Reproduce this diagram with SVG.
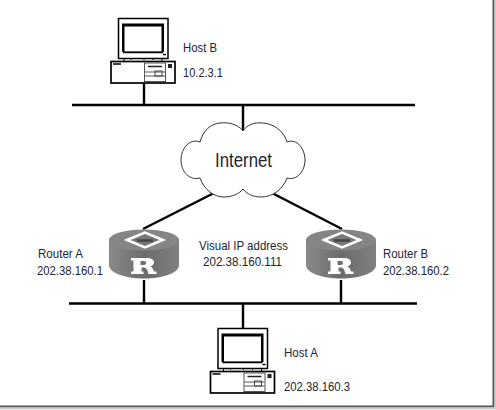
<svg xmlns="http://www.w3.org/2000/svg" width="496" height="410" viewBox="0 0 496 410">
<style>
text{font-family:"Liberation Sans",Arial,sans-serif;font-size:13.500px;fill:#1c2433}
.w{stroke:#000;stroke-width:2.400;fill:none}
.l{stroke:#000;fill:#fff}
.t{stroke:#000;fill:none;stroke-width:1}
</style>
<defs>
<linearGradient id="side" x1="0" x2="1" y1="0" y2="0">
<stop offset="0" stop-color="#8a8a8a"/><stop offset="0.500" stop-color="#6c6c6c"/><stop offset="1" stop-color="#808080"/>
</linearGradient>
<g id="pc">
<rect class="l" x="118.500" y="18.500" width="49.500" height="40" stroke-width="1.500"/>
<path d="M123.500 52V25H162.500V52" fill="none" stroke="#000" stroke-width="3"/>
<rect x="124" y="26" width="38" height="26" fill="#fff" stroke="#000" stroke-width="1"/>
<path d="M123 52.500h40" stroke="#000" stroke-width="1.500"/>
<path d="M163 54.500h3" stroke="#000" stroke-width="1.500"/>
<path d="M124 58v3.500M162 58v3.500M131 58v2M144 58v2M153 58v2" class="t"/>
<rect class="l" x="111" y="61.500" width="64" height="21.500" stroke-width="1.700"/>
<path d="M113 64h8" stroke="#000" stroke-width="1.500"/>
<rect x="144.500" y="63" width="21" height="18.500" fill="#fff" stroke="#555" stroke-width="1"/>
<path d="M148 66.500h14" stroke="#222" stroke-width="1.500"/>
<path d="M145 72h20M145 76h20" stroke="#555" stroke-width="1" fill="none"/>
<rect x="155" y="71" width="7" height="5" fill="none" stroke="#444"/>
<rect x="168" y="64" width="4" height="4" fill="#222"/>
</g>
<g id="router">
<path d="M109 239v26c0 8 16 13.500 35 13.500s35-5.500 35-13.500v-26z" fill="url(#side)"/>
<ellipse cx="144" cy="240" rx="35" ry="10.500" fill="#858585"/>
<path d="M127 240l18-7.500 18 7.500-18 7.500z" fill="#777" stroke="#fff" stroke-width="2.500"/>
<path d="M137 240.500h16" stroke="#444" stroke-width="2.500"/>
<path d="M131 258h15c6 0 8 2 8 4.500 0 2-2 3.500-4 4 2 .5 3 2 4 5h2.500v2.500h-8c-1-4-2-6.500-5-6.500h-2v4h2v2.500h-12.500v-2.500h2.500v-11h-2.500zM140.500 261v4h3.500c2.500 0 3-4 0-4z" fill="#fff" fill-rule="evenodd"/>
</g>
</defs>
<rect width="496" height="410" fill="#fff"/>
<path d="M493.500 0V406.500H0" fill="none" stroke="#555" stroke-width="2"/>
<path d="M495.500 0V408.500H0" fill="none" stroke="#ccc" stroke-width="2"/>
<g id="connectors">
<path class="w" d="M72 105H415M69 303.500H417M144 83V105M243 105V132M143 229L214 193M342 229L272 193M144 280V303.500M341 280V303.500M243 303.500V329"/>
</g>
<g id="cloud">
<path d="M243 131C238 124 228 122 220 123C210 124 203 131 200 142C190 138 181 148 181 160C181 172 190 181 200 178C204 189 213 197 224 197C232 197 239 194 243 189C247 194 253 197 261 197C273 197 283 189 287 178C297 181 305 171 305 160C305 149 297 138 287 142C284 131 273 123 262 123C254 122 247 125 243 131Z" fill="#fff" stroke="#333" stroke-width="1"/>
<text x="215" y="167" style="font-size:19.500px" textLength="57" lengthAdjust="spacingAndGlyphs">Internet</text>
</g>
<g id="host-b">
<use href="#pc"/>
<text x="183" y="52" textLength="34" lengthAdjust="spacingAndGlyphs">Host B</text>
<text x="183" y="77" textLength="40" lengthAdjust="spacingAndGlyphs">10.2.3.1</text>
</g>
<g id="router-a">
<use href="#router"/>
<text x="38" y="258" textLength="45" lengthAdjust="spacingAndGlyphs">Router A</text>
<text x="37" y="275" textLength="66" lengthAdjust="spacingAndGlyphs">202.38.160.1</text>
</g>
<g id="router-b">
<use href="#router" x="197"/>
<text x="383" y="258" textLength="45" lengthAdjust="spacingAndGlyphs">Router B</text>
<text x="383" y="275" textLength="66" lengthAdjust="spacingAndGlyphs">202.38.160.2</text>
</g>
<g id="vip">
<text x="199" y="250" textLength="89" lengthAdjust="spacingAndGlyphs">Visual IP address</text>
<text x="203" y="266" textLength="79" lengthAdjust="spacingAndGlyphs">202.38.160.111</text>
</g>
<g id="host-a">
<use href="#pc" x="99.500" y="310"/>
<text x="284" y="357" textLength="34" lengthAdjust="spacingAndGlyphs">Host A</text>
<text x="284" y="391" textLength="66" lengthAdjust="spacingAndGlyphs">202.38.160.3</text>
</g>
</svg>
